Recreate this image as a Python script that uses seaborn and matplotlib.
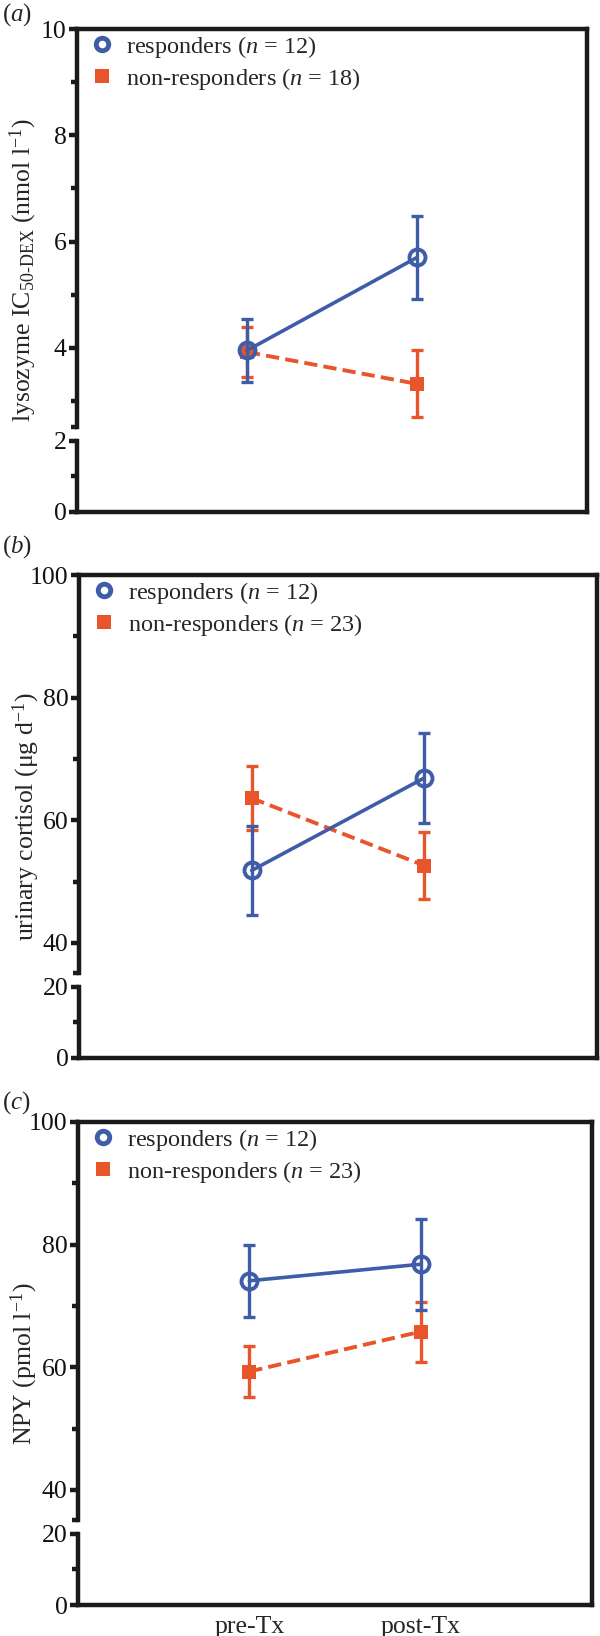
import numpy as np
import pandas as pd
import seaborn as sns
import matplotlib.pyplot as plt
from matplotlib.lines import Line2D
from matplotlib.ticker import FixedLocator

# data (mean and error bar half-length)
time_labels = ["pre-Tx", "post-Tx"]
time_pos = [1, 2]

lys_resp = [3.95, 5.70]
lys_resp_err = [0.60, 0.78]
lys_non = [3.92, 3.32]
lys_non_err = [0.47, 0.63]

cort_resp = [51.8, 66.9]
cort_resp_err = [7.2, 7.3]
cort_non = [63.6, 52.6]
cort_non_err = [5.2, 5.4]

npy_resp = [74.1, 76.8]
npy_resp_err = [5.9, 7.4]
npy_non = [59.3, 65.8]
npy_non_err = [4.1, 4.9]

n_resp = [12, 12, 12]
n_non = [18, 23, 23]

ylabels = ["lysozyme IC$_{\\mathregular{50\u2010DEX}}$ (nmol l$^{\\mathregular{-1}}$)",
           "urinary cortisol (\u03bcg d$^{\\mathregular{-1}}$)",
           "NPY (pmol l$^{\\mathregular{-1}}$)"]
panel_tags = ["a", "b", "c"]

sns.set_theme(style="ticks")
plt.rcParams["font.family"] = ["Liberation Serif", "DejaVu Serif"]
plt.rcParams["mathtext.fontset"] = "custom"
plt.rcParams["mathtext.rm"] = "Liberation Serif"
plt.rcParams["mathtext.it"] = "Liberation Serif:italic"

BLUE = "#3f5ca8"
ORANGE = "#e8552b"
LW = 3.2
W, H = 600, 1636
FS = 18.5

fig = plt.figure(figsize=(6, 16.36), dpi=100)
fig.patch.set_facecolor("white")

# panel boxes in pixels: top, bottom, left, right
boxes = [(29, 512, 77, 587), (575, 1058, 79, 597), (1122, 1605, 78, 592)]
upper_lims = [(2.5, 10), (35, 100), (35, 100)]
lower_lims = [(0, 2), (0, 20), (0, 20)]
upper_major = [[4, 6, 8, 10], [40, 60, 80, 100], [40, 60, 80, 100]]
upper_minor = [[2.5, 3, 5, 7, 9], [35, 50, 70, 90], [35, 50, 70, 90]]
lower_major = [[0, 2], [0, 20], [0, 20]]
lower_minor = [[1], [10], [10]]
tag_y = [15, 547, 1103]
label_x = [23, 26, 24]

resp_all = [(lys_resp, lys_resp_err), (cort_resp, cort_resp_err), (npy_resp, npy_resp_err)]
non_all = [(lys_non, lys_non_err), (cort_non, cort_non_err), (npy_non, npy_non_err)]


def px_rect(top, bottom, left, right):
    return [left / W, 1 - bottom / H, (right - left) / W, (bottom - top) / H]


def style_left(ax):
    for s in ["top", "right", "bottom"]:
        ax.spines[s].set_visible(False)
    ax.spines["left"].set_linewidth(LW)
    ax.spines["left"].set_color("#1a1a1a")
    ax.set_facecolor("none")
    ax.tick_params(axis="y", which="major", length=6, width=LW, pad=1.5,
                   labelsize=FS, color="#1a1a1a", labelcolor="#111111")
    ax.tick_params(axis="y", which="minor", length=4.5, width=LW, color="#1a1a1a")
    ax.tick_params(axis="x", length=0)
    ax.set_xlim(0, 3)


for i in range(3):
    top, bottom, left, right = boxes[i]
    h = bottom - top
    up_h = 0.825 * h
    low_h = 0.147 * h

    # frame: top, right and bottom sides
    bg = fig.add_axes(px_rect(top, bottom, left, right))
    bg.set_xlim(0, 3)
    bg.set_xticks([])
    bg.set_yticks([])
    bg.set_facecolor("none")
    bg.spines["left"].set_visible(False)
    for s in ["top", "right", "bottom"]:
        bg.spines[s].set_linewidth(LW)
        bg.spines[s].set_color("#1a1a1a")

    # broken y axis: upper and lower parts
    ax = fig.add_axes(px_rect(top, top + up_h, left, right))
    axl = fig.add_axes(px_rect(bottom - low_h, bottom, left, right))
    style_left(ax)
    style_left(axl)

    ax.set_ylim(*upper_lims[i])
    ax.yaxis.set_major_locator(FixedLocator(upper_major[i]))
    ax.yaxis.set_minor_locator(FixedLocator(upper_minor[i]))
    ax.set_xticks([])
    axl.set_ylim(*lower_lims[i])
    axl.yaxis.set_major_locator(FixedLocator(lower_major[i]))
    axl.yaxis.set_minor_locator(FixedLocator(lower_minor[i]))
    if i == 2:
        axl.set_xticks(time_pos)
        axl.set_xticklabels(time_labels, fontsize=FS)
        axl.tick_params(axis="x", pad=8)
    else:
        axl.set_xticks([])

    resp, resp_err = resp_all[i]
    non, non_err = non_all[i]

    # non-responders
    ax.errorbar(time_pos, non, yerr=non_err, fmt="none", ecolor=ORANGE,
                elinewidth=2.4, capsize=4.5, capthick=2.4, zorder=2)
    sns.lineplot(x=time_pos, y=non, ax=ax, color=ORANGE, lw=2.8,
                 linestyle=(0, (3.4, 1.6)), marker="s", ms=10,
                 mfc=ORANGE, mec=ORANGE, mew=0, zorder=3, legend=False)
    # responders
    ax.errorbar(time_pos, resp, yerr=resp_err, fmt="none", ecolor=BLUE,
                elinewidth=2.4, capsize=4.5, capthick=2.4, zorder=4)
    sns.lineplot(x=time_pos, y=resp, ax=ax, color=BLUE, lw=2.6,
                 marker="o", ms=11.5, mfc="none", mec=BLUE, mew=2.8,
                 zorder=5, legend=False)
    ax.set_ylabel("")
    ax.set_xlabel("")
    axl.set_ylabel("")
    axl.set_xlabel("")

    handles = [
        Line2D([], [], linestyle="none", marker="o", ms=9, mfc="none", mec=BLUE, mew=3.5),
        Line2D([], [], linestyle="none", marker="s", ms=9.5, mfc=ORANGE, mec=ORANGE, mew=0),
    ]
    labels = ["responders ($n$ = %d)" % n_resp[i], "non-responders ($n$ = %d)" % n_non[i]]
    ax.legend(handles, labels, loc="upper left", bbox_to_anchor=(0.02, 1.0),
              frameon=False, fontsize=17.5, handlelength=0.8, handletextpad=0.6,
              labelspacing=0.25, borderaxespad=0.0, borderpad=0.2)

    fig.text(2 / W, 1 - tag_y[i] / H, "($%s$)" % panel_tags[i], fontsize=18,
             ha="left", va="center")
    fig.text(label_x[i] / W, 1 - (top + bottom) / 2 / H, ylabels[i], fontsize=18.5,
             rotation=90, ha="center", va="center")

fig.savefig("out.png", dpi=100, facecolor="white")
